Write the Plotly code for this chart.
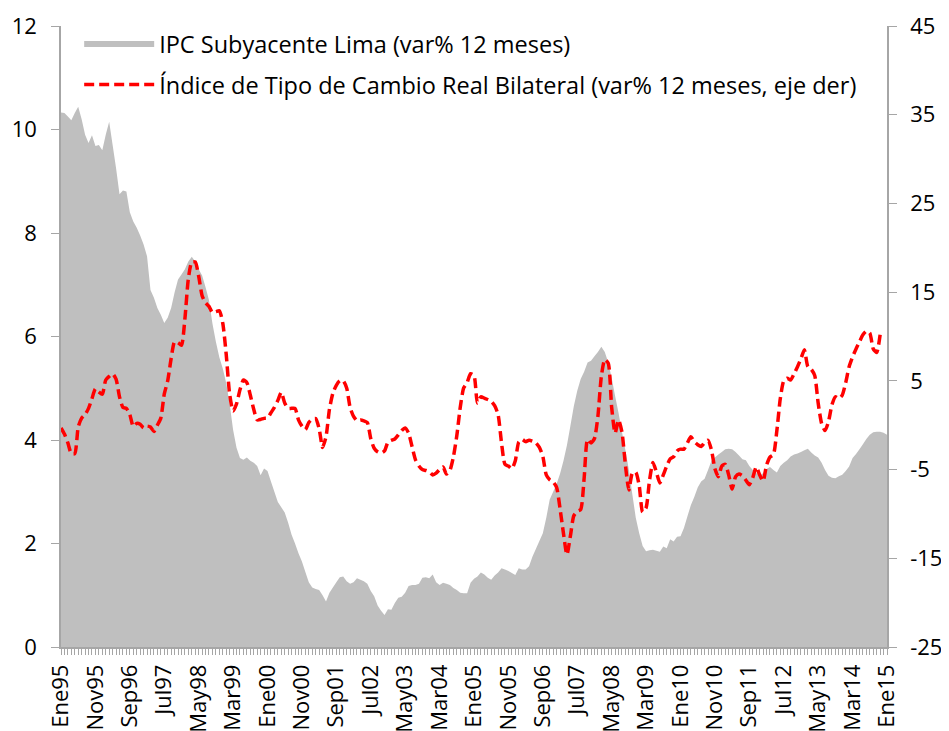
import plotly.graph_objects as go

# IPC subyacente Lima, var% 12 meses (Ene95 - Ene15), eje izquierdo
ipc_subyacente = [
    10.33, 10.32, 10.25, 10.18, 10.32, 10.44, 10.2, 9.9, 9.74, 9.89, 9.68, 9.7,      # 1995
    9.6, 9.9, 10.15, 9.7, 9.25, 8.75, 8.82, 8.8, 8.4, 8.22, 8.1, 7.95,               # 1996
    7.78, 7.55, 6.9, 6.75, 6.55, 6.42, 6.26, 6.36, 6.55, 6.85, 7.1, 7.2,             # 1997
    7.3, 7.45, 7.54, 7.45, 7.3, 7.18, 6.95, 6.7, 6.25, 5.9, 5.6, 5.38,               # 1998
    5.1, 4.7, 4.2, 3.85, 3.65, 3.62, 3.66, 3.6, 3.56, 3.5, 3.32, 3.45,               # 1999
    3.4, 3.2, 3.0, 2.8, 2.7, 2.6, 2.4, 2.17, 2.0, 1.81, 1.65, 1.45,                  # 2000
    1.25, 1.15, 1.12, 1.1, 1.0, 0.88, 1.05, 1.15, 1.25, 1.35, 1.36, 1.27,            # 2001
    1.22, 1.25, 1.33, 1.3, 1.27, 1.22, 1.08, 0.98, 0.8, 0.7, 0.62, 0.73,             # 2002
    0.72, 0.85, 0.95, 0.97, 1.05, 1.18, 1.2, 1.2, 1.22, 1.34, 1.35, 1.33,            # 2003
    1.4, 1.25, 1.2, 1.24, 1.22, 1.2, 1.14, 1.1, 1.05, 1.04, 1.04, 1.24,              # 2004
    1.32, 1.36, 1.44, 1.4, 1.34, 1.3, 1.38, 1.44, 1.52, 1.5, 1.47, 1.43,             # 2005
    1.39, 1.52, 1.5, 1.5, 1.56, 1.75, 1.9, 2.05, 2.2, 2.5, 2.85, 3.0,                # 2006
    3.15, 3.35, 3.6, 3.9, 4.27, 4.65, 4.95, 5.18, 5.32, 5.5, 5.53, 5.62,             # 2007
    5.7, 5.8, 5.7, 5.5, 5.2, 4.85, 4.52, 4.15, 3.8, 3.42, 2.95, 2.5,                 # 2008
    2.2, 1.95, 1.85, 1.87, 1.88, 1.86, 1.84, 1.94, 1.91, 2.08, 2.04, 2.13,           # 2009
    2.14, 2.3, 2.52, 2.74, 2.9, 3.08, 3.2, 3.25, 3.42, 3.6, 3.66, 3.72,              # 2010
    3.77, 3.82, 3.83, 3.82, 3.77, 3.7, 3.63, 3.61, 3.5, 3.42, 3.36, 3.3,             # 2011
    3.36, 3.44, 3.48, 3.42, 3.37, 3.5, 3.56, 3.61, 3.68, 3.72, 3.74, 3.77,           # 2012
    3.8, 3.83, 3.76, 3.7, 3.66, 3.56, 3.42, 3.31, 3.27, 3.26, 3.3, 3.33,             # 2013
    3.4, 3.49, 3.65, 3.73, 3.82, 3.92, 4.02, 4.1, 4.15, 4.16, 4.16, 4.14,            # 2014
    4.10,                                                                            # 2015
]

# Indice de tipo de cambio real bilateral, var% 12 meses (Ene95 - Nov14), eje derecho
tcr_bilateral = [
    -0.3, -1.0, -2.0, -3.2, -3.2, -0.2, 0.8, 1.2, 1.9, 3.0, 4.1, 3.75,               # 1995
    3.5, 5.1, 5.5, 5.8, 5.2, 3.2, 2.0, 1.9, 1.2, -0.15, 0.2, 0.1,                    # 1996
    -0.3, -0.1, -0.2, -0.7, 0.0, 0.8, 3.5, 5.0, 7.5, 9.4, 9.3, 9.0,                  # 1997
    12.0, 16.5, 18.4, 18.4, 16.8, 14.6, 13.8, 13.4, 12.7, 12.8, 12.9, 11.5,          # 1998
    8.0, 3.5, 1.6, 2.4, 4.0, 5.1, 4.8, 3.4, 1.8, 0.6, 0.65, 0.77,                    # 1999
    0.8, 1.4, 2.0, 2.8, 3.7, 2.5, 1.9, 1.9, 1.9, 0.6, -0.1, -0.5,                    # 2000
    0.3, 0.7, 0.75, -0.4, -2.5, -1.3, 1.8, 3.6, 4.5, 5.0, 5.0, 4.2,                  # 2001
    2.0, 1.0, 0.5, 0.58, 0.5, 0.3, -1.5, -2.6, -3.0, -3.15, -2.9, -1.9,              # 2002
    -1.7, -1.55, -1.1, -0.6, -0.3, -0.9, -2.4, -3.9, -4.6, -5.0, -5.1, -5.25,        # 2003
    -5.6, -5.4, -5.0, -4.7, -5.5, -5.1, -3.6, -1.2, 2.0, 4.2, 4.8, 5.8,              # 2004
    5.6, 2.5, 3.2, 3.05, 2.9, 2.7, 2.2, 1.2, -2.0, -4.4, -4.6, -4.9,                 # 2005
    -4.0, -1.9, -1.6, -1.85, -1.7, -1.8, -2.0, -2.5, -3.5, -5.6, -6.15, -6.4,        # 2006
    -7.0, -9.4, -12.2, -14.6, -12.5, -10.2, -9.7, -9.5, -6.0, -1.6, -2.0, -1.5,      # 2007
    1.0, 5.5, 7.4, 7.0, 2.0, -0.9, 0.6, -0.8, -4.5, -7.3, -5.4, -5.3,                # 2008
    -6.8, -9.8, -9.3, -6.2, -4.2, -5.3, -6.5, -5.6, -4.6, -3.8, -3.55, -2.9,         # 2009
    -2.7, -2.7, -2.0, -1.3, -1.85, -2.2, -2.4, -1.95, -1.7, -2.8, -4.9, -5.8,        # 2010
    -4.6, -4.4, -5.6, -7.2, -5.8, -5.5, -5.7, -6.2, -6.7, -5.9, -4.7, -5.6,          # 2011
    -6.3, -4.5, -3.6, -3.3, -0.6, 3.0, 5.0, 5.3, 5.1, 5.8, 6.6, 7.5,                 # 2012
    8.5, 6.6, 6.3, 5.6, 2.5, 0.2, -0.6, 0.4, 2.3, 3.2, 3.0, 3.4,                     # 2013
    4.8, 6.6, 7.7, 8.6, 9.4, 10.2, 10.6, 10.4, 8.6, 8.2, 10.2,                       # 2014
]

# etiquetas del eje X, una cada 10 meses
etiquetas = ["Ene95", "Nov95", "Sep96", "Jul97", "May98", "Mar99", "Ene00", "Nov00",
             "Sep01", "Jul02", "May03", "Mar04", "Ene05", "Nov05", "Sep06", "Jul07",
             "May08", "Mar09", "Ene10", "Nov10", "Sep11", "Jul12", "May13", "Mar14",
             "Ene15"]

# eje derecho
ticks_der = [-25, -15, -5, 5, 15, 25, 35, 45]
ticks_der_txt = ["-25", "-15", "-5", "5", "15", "25", "35", "45"]

meses = list(range(len(ipc_subyacente)))
pos_etiquetas = list(range(0, len(ipc_subyacente), 10))

FUENTE = "'Open Sans', sans-serif"
GRIS_EJE = "#a6a6a6"

fig = go.Figure()

fig.add_trace(go.Scatter(
    x=meses, y=ipc_subyacente,
    name="IPC Subyacente Lima (var% 12 meses)",
    mode="none", fill="tozeroy", fillcolor="#bfbfbf",
    legendgroup="a", hoverinfo="skip",
))

fig.add_trace(go.Scatter(
    x=meses[:len(tcr_bilateral)], y=tcr_bilateral,
    name="Índice de Tipo de Cambio Real Bilateral (var% 12 meses, eje der)",
    mode="lines", yaxis="y2",
    line=dict(color="#ff0000", width=3.5, dash="10px,5px", shape="spline", smoothing=0.6),
    legendgroup="b", hoverinfo="skip",
))

# titulo cortado en el borde superior
fig.add_annotation(
    text="<b>(var. % 12 meses)</b>", xref="paper", yref="paper",
    x=0.515, y=1.029, xanchor="center", yanchor="bottom", showarrow=False,
    font=dict(size=21, color="black", family=FUENTE),
)

# la pagina agrega 8px de margen, por eso 941x723
fig.update_layout(
    width=941, height=723,
    margin=dict(l=53, r=62, t=18, b=84),
    plot_bgcolor="white", paper_bgcolor="white",
    font=dict(family=FUENTE, size=23, color="black"),
    showlegend=True,
    legend=dict(
        x=0.022, y=1.006, xanchor="left", yanchor="top",
        bgcolor="rgba(0,0,0,0)", itemwidth=70, tracegroupgap=7,
        font=dict(size=23.5, family=FUENTE),
    ),
    xaxis=dict(
        range=[0, 240], showgrid=False, zeroline=False,
        showline=True, linecolor=GRIS_EJE, linewidth=1.5,
        tickmode="array", tickvals=pos_etiquetas, ticktext=etiquetas,
        tickangle=-90, ticks="outside", ticklen=6, tickcolor=GRIS_EJE,
        minor=dict(dtick=1, ticks="outside", ticklen=6, tickcolor=GRIS_EJE),
        ticklabelstandoff=1, automargin=False, tickfont=dict(size=22),
    ),
    yaxis=dict(
        range=[0, 12], dtick=2, showgrid=False, zeroline=False,
        showline=True, linecolor=GRIS_EJE, linewidth=1.5,
        ticks="outside", ticklen=8, tickcolor=GRIS_EJE, ticklabelstandoff=10,
        automargin=False, tickfont=dict(size=22),
    ),
    yaxis2=dict(
        range=[-25, 45], tickmode="array", tickvals=ticks_der, ticktext=ticks_der_txt,
        overlaying="y", side="right", showgrid=False, zeroline=False,
        showline=True, linecolor=GRIS_EJE, linewidth=1.5,
        ticks="outside", ticklen=8, tickcolor=GRIS_EJE, ticklabelstandoff=9,
        automargin=False, tickfont=dict(size=22),
    ),
)

fig.write_html("out.html")
